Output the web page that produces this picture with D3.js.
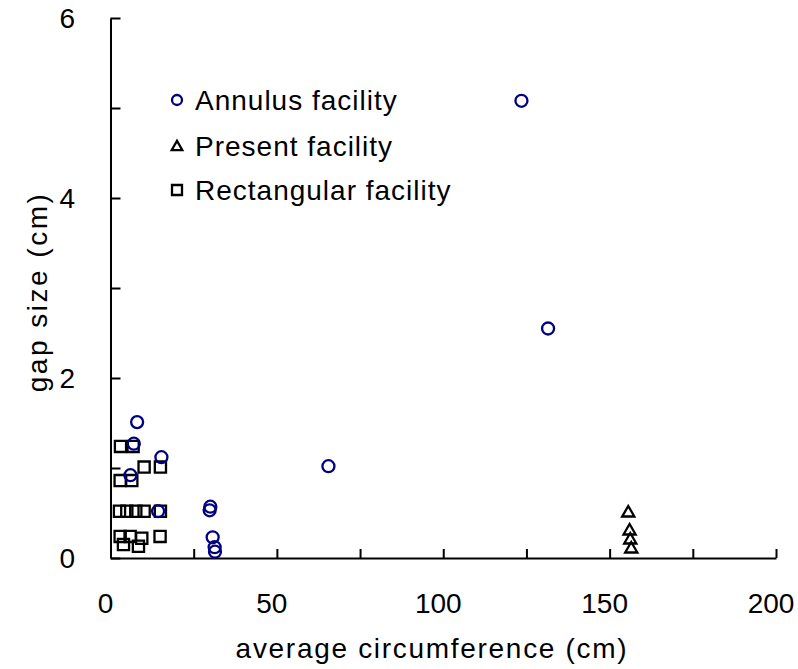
<!DOCTYPE html>
<html>
<head>
<meta charset="utf-8">
<script src="https://cdn.jsdelivr.net/npm/d3@7"></script>
<style>
  body { margin: 0; background: #fff; }
  text { font-family: "Liberation Sans", Arial, sans-serif; }
</style>
</head>
<body>
<svg id="chart" width="798" height="669"></svg>
<script>
// Data
var annulus = [
  [123.5, 5.08], [131.5, 2.55], [65.5, 1.02],
  [8, 1.51], [7, 1.27], [15.3, 1.12], [6, 0.92],
  [14.3, 0.52], [30, 0.57], [29.8, 0.53],
  [30.7, 0.23], [31.3, 0.12], [31.4, 0.07]
];
var present = [
  [155.6, 0.5], [156, 0.3], [156.2, 0.2], [156.5, 0.1]
];
var rectangular = [
  [3, 1.24], [6.8, 1.24], [10.1, 1.01], [15, 1.01], [2.9, 0.86], [6.4, 0.86],
  [2.7, 0.52], [4.9, 0.52], [7.6, 0.52], [10.1, 0.52], [15, 0.52],
  [2.9, 0.24], [5.9, 0.24], [9.4, 0.22], [14.9, 0.24],
  [3.9, 0.15], [8.4, 0.13]
];
var legendNames = ["Annulus facility", "Present facility", "Rectangular facility"];
var xTicks = [0, 50, 100, 150, 200];
var yTicks = [0, 2, 4, 6];

var svg = d3.select("#chart");
var x = d3.scaleLinear().domain([0, 200]).range([110.5, 776]);
var y = d3.scaleLinear().domain([0, 6]).range([558, 18]);

// axes, ticks point inward
var xAxis = svg.append("g")
  .attr("transform", "translate(0," + y(0) + ")")
  .call(d3.axisBottom(x).tickValues(d3.range(0, 201, 25)).tickSize(-9).tickFormat("").tickSizeOuter(0));
var yAxis = svg.append("g")
  .attr("transform", "translate(" + x(0) + ",0)")
  .call(d3.axisLeft(y).tickValues(d3.range(0, 7, 1)).tickSize(-10).tickFormat("").tickSizeOuter(0));
[xAxis, yAxis].forEach(function(a) {
  a.selectAll("path,line").attr("stroke", "#000").attr("stroke-width", 2);
});

svg.selectAll(".xlab").data(xTicks).enter().append("text")
  .attr("x", function(d) { return x(d) - 5; })
  .attr("y", 613)
  .attr("text-anchor", "middle")
  .attr("font-size", 28)
  .text(function(d) { return d; });
svg.selectAll(".ylab").data(yTicks).enter().append("text")
  .attr("x", 75)
  .attr("y", function(d) { return y(d) + 10; })
  .attr("text-anchor", "end")
  .attr("font-size", 28)
  .text(function(d) { return d; });

svg.append("text")
  .attr("x", 432).attr("y", 658)
  .attr("text-anchor", "middle").attr("font-size", 28)
  .attr("letter-spacing", 1.7)
  .text("average circumference (cm)");
svg.append("text")
  .attr("transform", "translate(47,292) rotate(-90)")
  .attr("text-anchor", "middle").attr("font-size", 28)
  .attr("letter-spacing", 2.5)
  .text("gap size (cm)");

// markers
var sq = d3.symbol().type(d3.symbolSquare).size(125);
var tri = d3.symbol().type(d3.symbolTriangle).size(64);

svg.selectAll(".sq").data(rectangular).enter().append("path")
  .attr("d", sq)
  .attr("transform", function(d) { return "translate(" + x(d[0]) + "," + y(d[1]) + ")"; })
  .attr("fill", "none").attr("stroke", "#000").attr("stroke-width", 2.3);
svg.selectAll(".tri").data(present).enter().append("path")
  .attr("d", tri)
  .attr("transform", function(d) { return "translate(" + x(d[0]) + "," + y(d[1]) + ")"; })
  .attr("fill", "none").attr("stroke", "#000").attr("stroke-width", 2.3);
svg.selectAll(".circ").data(annulus).enter().append("circle")
  .attr("cx", function(d) { return x(d[0]); })
  .attr("cy", function(d) { return y(d[1]); })
  .attr("r", 6)
  .attr("fill", "none").attr("stroke", "#000080").attr("stroke-width", 2.3);

// legend
var leg = svg.append("g");
var ly = [100, 146, 190];
leg.append("circle").attr("cx", 177).attr("cy", ly[0]).attr("r", 5)
  .attr("fill", "none").attr("stroke", "#000080").attr("stroke-width", 2.3);
leg.append("path").attr("d", d3.symbol().type(d3.symbolTriangle).size(48))
  .attr("transform", "translate(177," + (ly[1] + 1) + ")")
  .attr("fill", "none").attr("stroke", "#000").attr("stroke-width", 2.3);
leg.append("path").attr("d", d3.symbol().type(d3.symbolSquare).size(100))
  .attr("transform", "translate(177," + ly[2] + ")")
  .attr("fill", "none").attr("stroke", "#000").attr("stroke-width", 2.3);
leg.selectAll("text").data(legendNames).enter().append("text")
  .attr("x", 195)
  .attr("y", function(d, i) { return ly[i] + 10; })
  .attr("font-size", 28)
  .attr("letter-spacing", 1)
  .text(function(d) { return d; });
</script>
</body>
</html>
